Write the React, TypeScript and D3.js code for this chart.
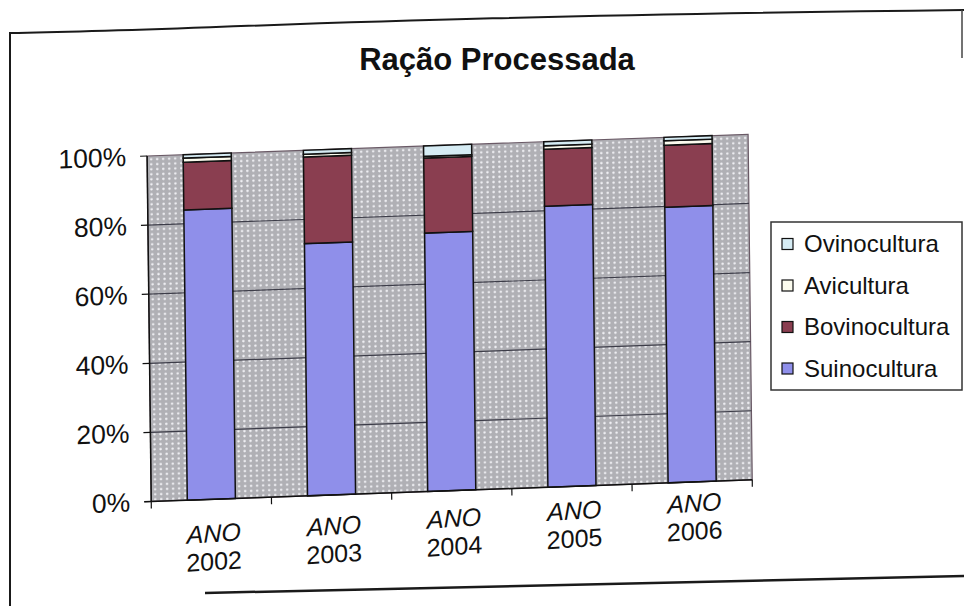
import React from "react";
import * as d3 from "d3";

// ---- data (percent shares) ----
const categories = ["2002", "2003", "2004", "2005", "2006"];
const categoryPrefix = "ANO";
const seriesNames = ["Suinocultura", "Bovinocultura", "Avicultura", "Ovinocultura"];
const suinocultura = [84.0, 73.0, 74.8, 81.3, 79.8];
const bovinocultura = [13.8, 25.1, 21.7, 16.5, 17.9];
const avicultura = [1.2, 0.8, 0.5, 1.0, 1.3];
const ovinocultura = [1.0, 1.1, 3.0, 1.2, 1.0];
const yTickValues = [0, 0.2, 0.4, 0.6, 0.8, 1];
const title = "Ração Processada";

const seriesColors: Record<string, string> = {
  Suinocultura: "#8f8fea",
  Bovinocultura: "#8a3e50",
  Avicultura: "#fbfbee",
  Ovinocultura: "#d6ecf4",
};

const FONT = "'Liberation Sans', Arial, Helvetica, sans-serif";

export default function App() {
  const W = 964;
  const H = 606;
  const plot = { left: 149, right: 750, top: 144, bottom: 489.5 };

  const rows = categories.map((c, i) => ({
    cat: c,
    Suinocultura: suinocultura[i],
    Bovinocultura: bovinocultura[i],
    Avicultura: avicultura[i],
    Ovinocultura: ovinocultura[i],
  }));

  const stack = d3
    .stack<any>()
    .keys(seriesNames)
    .offset(d3.stackOffsetExpand);
  const stacked = stack(rows);

  const x = d3
    .scaleBand<string>()
    .domain(categories)
    .range([plot.left, plot.right])
    .paddingInner(0.6)
    .paddingOuter(0.3);
  const step = x.step();
  const y = d3.scaleLinear().domain([0, 1]).range([plot.bottom, plot.top]);
  const fmt = d3.format(".0%");

  // slight skew of the scanned page
  const cx = 482, cy = 303, b = -0.036, c = 0.012;
  const skew = `matrix(1, ${b}, ${c}, 1, ${-c * cy}, ${-b * cx})`;
  // category labels are tilted a little more on the scan
  const labelSkew = `matrix(1, -0.027, 0, 1, 0, 15.8)`;

  const legendItems = [...seriesNames].reverse();
  const legend = { x: 771, y: 222, w: 191, h: 168 };

  return (
    <svg width={W} height={H} style={{ display: "block", position: "absolute", left: 0, top: 0, background: "#ffffff" }}>
      <defs>
        <pattern id="dots" width="6" height="5" patternUnits="userSpaceOnUse">
          <rect width="6" height="5" fill="#b0b0b5" />
          <circle cx="3" cy="2.5" r="1.2" fill="#f0f0f4" />
        </pattern>
      </defs>
      <rect x={0} y={0} width={W} height={H} fill="#ffffff" />

      {/* page frame of the scanned chart */}
      <path d="M10,606 L10,33 C 200,30 360,17 964,10" fill="none" stroke="#1a1a1a" strokeWidth={2} />
      <path d="M962,10 L962,58" fill="none" stroke="#444" strokeWidth={1.5} />
      <path d="M205,593 C 450,586 700,580 964,576" fill="none" stroke="#1a1a1a" strokeWidth={2.5} />

      <text x={497} y={70} textAnchor="middle" fontFamily={FONT} fontWeight="bold" fontSize={31} fill="#111">
        {title}
      </text>

      <g transform={skew}>
        {/* plot area */}
        <rect
          x={plot.left}
          y={plot.top}
          width={plot.right - plot.left}
          height={plot.bottom - plot.top}
          fill="url(#dots)"
          stroke="#6a5a66"
          strokeWidth={1.2}
        />
        {/* gridlines */}
        {yTickValues.slice(1, -1).map((t) => (
          <line key={t} x1={plot.left} x2={plot.right} y1={y(t)} y2={y(t)} stroke="#3c3c48" strokeWidth={1.2} />
        ))}

        {/* bars */}
        {stacked.map((s) => (
          <g key={s.key}>
            {s.map((d, i) => (
              <rect
                key={i}
                x={x(categories[i])}
                y={y(d[1])}
                width={x.bandwidth()}
                height={y(d[0]) - y(d[1])}
                fill={seriesColors[s.key]}
                stroke="#111"
                strokeWidth={1.5}
              />
            ))}
          </g>
        ))}

        {/* axes */}
        <line x1={plot.left} x2={plot.left} y1={plot.top} y2={plot.bottom} stroke="#111" strokeWidth={1.5} />
        <line x1={plot.left - 7} x2={plot.right} y1={plot.bottom} y2={plot.bottom} stroke="#111" strokeWidth={1.5} />
        {yTickValues.map((t) => (
          <g key={t}>
            <line x1={plot.left - 7} x2={plot.left} y1={y(t)} y2={y(t)} stroke="#111" strokeWidth={1.2} />
            <text
              x={plot.left - 21}
              y={y(t)}
              dy="0.35em"
              textAnchor="end"
              fontFamily={FONT}
              fontSize={26.5}
              fill="#111"
            >
              {fmt(t)}
            </text>
          </g>
        ))}
        {d3.range(categories.length + 1).map((i) => (
          <line
            key={i}
            x1={plot.left + i * step}
            x2={plot.left + i * step}
            y1={plot.bottom}
            y2={plot.bottom + 7}
            stroke="#111"
            strokeWidth={1.2}
          />
        ))}
        <g transform={labelSkew}>
          {categories.map((cat) => {
            const cxl = (x(cat) as number) + x.bandwidth() / 2 + 2;
            return (
              <g key={cat}>
                <text x={cxl} y={plot.bottom + 24} dy="0.35em" textAnchor="middle" fontFamily={FONT} fontStyle="italic" fontSize={25} fill="#111">
                  {categoryPrefix}
                </text>
                <text x={cxl} y={plot.bottom + 52} dy="0.35em" textAnchor="middle" fontFamily={FONT} fontSize={25} fill="#111">
                  {cat}
                </text>
              </g>
            );
          })}
        </g>
      </g>

      {/* legend */}
      <rect x={legend.x} y={legend.y} width={legend.w} height={legend.h} fill="#fff" stroke="#333" strokeWidth={1.5} />
      {legendItems.map((name, i) => {
        const cyi = 244 + i * 41.5;
        return (
          <g key={name}>
            <rect x={782} y={cyi - 5.5} width={11} height={11} fill={seriesColors[name]} stroke="#111" strokeWidth={1.2} />
            <text x={804} y={cyi} dy="0.35em" fontFamily={FONT} fontSize={24} fill="#111">
              {name}
            </text>
          </g>
        );
      })}
    </svg>
  );
}
